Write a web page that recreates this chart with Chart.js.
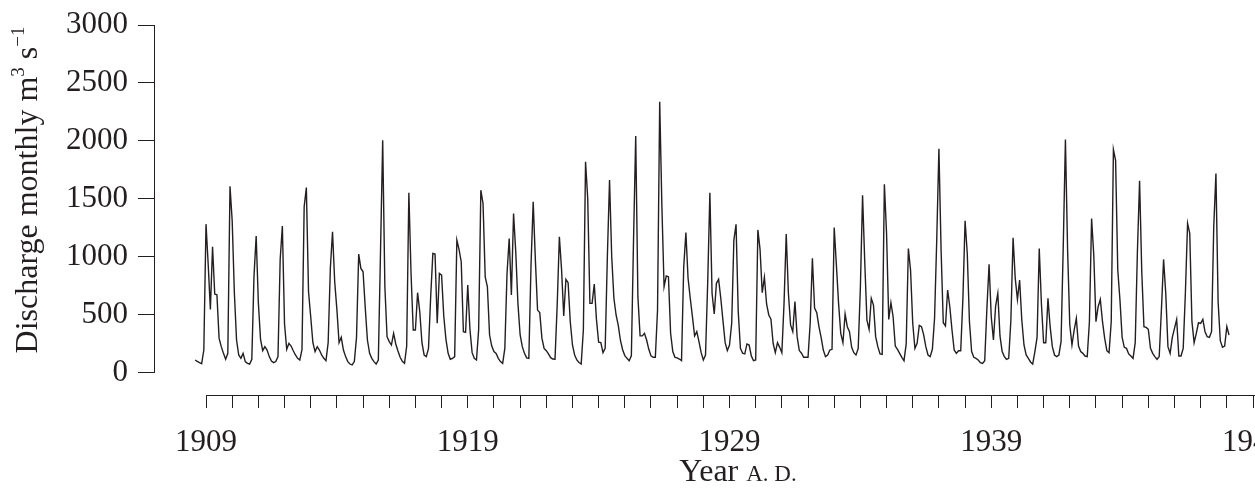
<!DOCTYPE html>
<html>
<head>
<meta charset="utf-8">
<script src="https://cdn.jsdelivr.net/npm/chart.js@4.4.1/dist/chart.umd.min.js"></script>
<style>
    html, body { margin: 0; padding: 0; background: #fff; }
    #wrap { width: 1255px; height: 488px; }
</style>
</head>
<body>
<div id="wrap"><canvas id="discharge-graph" width="1255" height="488"></canvas></div>
<script>
// monthly mean discharge, m3/s — first value is Aug 1908, one row = 12 months
const startYear = 1908, startMonth = 8;
const monthlyDischarge = [
    112, 100, 89, 80, 198, 1283, 938, 548, 1088, 680, 674, 298,
    227, 169, 118, 169, 1610, 1312, 692, 284, 155, 126, 169, 98,
    83, 77, 118, 835, 1180, 606, 290, 192, 227, 198, 141, 103,
    89, 98, 141, 979, 1266, 422, 204, 255, 232, 192, 155, 126,
    112, 200, 1432, 1598, 700, 485, 261, 184, 227, 198, 155, 126,
    106, 261, 901, 1217, 786, 548, 261, 307, 198, 141, 98, 77,
    69, 98, 307, 1025, 901, 872, 565, 284, 169, 126, 98, 77,
    112, 1045, 2006, 743, 313, 270, 241, 341, 250, 190, 135, 100,
    83, 232, 1553, 858, 370, 370, 692, 528, 261, 155, 141, 212,
    657, 1030, 1025, 428, 858, 844, 491, 290, 169, 118, 125, 141,
    1145, 1065, 959, 356, 350, 758, 376, 175, 126, 112, 376, 1576,
    1461, 829, 743, 327, 232, 184, 169, 126, 98, 83, 212, 858,
    1159, 672, 1375, 1045, 600, 330, 227, 169, 130, 126, 930, 1475,
    973, 542, 520, 300, 212, 192, 164, 132, 120, 118, 585, 1174,
    893, 491, 806, 778, 442, 241, 155, 112, 90, 77, 370, 1820,
    1504, 600, 600, 767, 462, 265, 261, 175, 212, 1002, 1663, 1003,
    644, 500, 410, 280, 200, 150, 126, 106, 147, 1146, 2043, 658,
    320, 320, 342, 284, 204, 147, 135, 135, 543, 2339, 1434, 744,
    836, 830, 342, 184, 135, 130, 120, 106, 911, 1210, 816, 644,
    486, 319, 356, 270, 175, 112, 155, 779, 1554, 687, 509, 773,
    807, 644, 451, 261, 193, 241, 428, 1146, 1281, 529, 213, 170,
    164, 250, 241, 147, 106, 112, 1233, 1066, 692, 825, 595, 500,
    463, 256, 175, 261, 221, 175, 600, 1198, 687, 414, 356, 615,
    313, 193, 170, 135, 135, 135, 434, 988, 560, 520, 400, 307,
    198, 141, 155, 198, 204, 1254, 930, 600, 342, 261, 508, 399,
    356, 221, 175, 155, 212, 738, 1533, 959, 456, 376, 643, 585,
    313, 227, 164, 160, 1627, 1203, 462, 606, 485, 232, 204, 169,
    135, 106, 250, 1073, 887, 428, 212, 255, 410, 399, 330, 227,
    155, 141, 204, 470, 1145, 1934, 1059, 433, 405, 715, 571, 370,
    198, 169, 192, 192, 643, 1312, 1030, 442, 184, 135, 126, 112,
    89, 83, 106, 557, 938, 485, 284, 577, 686, 319, 184, 141,
    118, 126, 456, 1165, 815, 634, 801, 456, 241, 155, 126, 95,
    77, 184, 307, 1073, 594, 261, 261, 643, 399, 227, 155, 141,
    155, 270, 1088, 2012, 1059, 413, 241, 370, 471, 232, 184, 169,
    146, 141, 442, 1332, 1016, 442, 571, 634, 442, 298, 192, 175,
    442, 1926, 1834, 887, 629, 307, 221, 212, 164, 146, 126, 261,
    1045, 1656, 872, 399, 393, 376, 212, 169, 141, 118, 141, 542,
    979, 686, 227, 169, 307, 385, 462, 146, 146, 212, 692, 1289,
    1203, 442, 261, 342, 433, 428, 462, 356, 313, 307, 356, 1260,
    1719, 614, 278, 221, 232, 399, 327
];

const yTickValues = [0, 500, 1000, 1500, 2000, 2500, 3000];
const xTickYears = [];
for (let yr = 1909; yr <= 1949; yr++) xTickYears.push(yr);
const labelYears = [1909, 1919, 1929, 1939, 1949];

const ink = '#231f20';
const serif = "'Liberation Serif', 'Times New Roman', serif";

const points = monthlyDischarge.map((v, i) => ({
    x: startYear + (startMonth - 1 + i) / 12,
    y: v
}));

// own axis lines (the x axis sits below the plot and starts at the first year tick)
// plus the two axis titles, which need superscripts / small caps
const axisDecor = {
    id: 'axisDecor',
    afterDraw(chart) {
        const { ctx, chartArea, scales: { x, y } } = chart;
        ctx.save();
        ctx.strokeStyle = ink;
        ctx.lineWidth = 1;
        ctx.beginPath();
        const ax = Math.floor(chartArea.left) + 0.5;
        ctx.moveTo(ax, y.getPixelForValue(yTickValues[0]));
        ctx.lineTo(ax, y.getPixelForValue(yTickValues[yTickValues.length - 1]));
        const ay = Math.floor(chartArea.bottom) + 0.5;
        ctx.moveTo(x.getPixelForValue(xTickYears[0]), ay);
        ctx.lineTo(chartArea.right, ay);
        ctx.stroke();

        ctx.fillStyle = ink;
        ctx.textBaseline = 'alphabetic';
        ctx.textAlign = 'left';

        // x title: Year A. D. (small caps)
        const big = '32px ' + serif, small = '23px ' + serif;
        ctx.font = big;
        const w1 = ctx.measureText('Year ').width;
        ctx.font = small;
        const w2 = ctx.measureText('A. D.').width;
        const tx = 738 - (w1 + w2) / 2;
        ctx.font = big;
        ctx.fillText('Year ', tx, 481);
        ctx.font = small;
        ctx.fillText('A. D.', tx + w1, 481);

        // y title with superscripts
        const parts = [
            { t: 'Discharge monthly m', f: big, up: 0 },
            { t: '3', f: '19px ' + serif, up: 13 },
            { t: ' s', f: big, up: 0 },
            { t: '\u22121', f: '19px ' + serif, up: 13 }
        ];
        let total = 0;
        parts.forEach(p => { ctx.font = p.f; p.w = ctx.measureText(p.t).width; total += p.w; });
        ctx.translate(37, 190);
        ctx.rotate(-Math.PI / 2);
        let px = -total / 2;
        parts.forEach(p => {
            ctx.font = p.f;
            ctx.fillText(p.t, px, -p.up);
            px += p.w;
        });
        ctx.restore();
    }
};

new Chart(document.getElementById('discharge-graph'), {
    type: 'line',
    data: {
        datasets: [{
            label: 'Discharge',
            data: points,
            borderColor: ink,
            borderWidth: 1.4,
            pointRadius: 0,
            tension: 0,
            fill: false
        }]
    },
    options: {
        responsive: false,
        animation: false,
        devicePixelRatio: 1,
        layout: { padding: { top: 25, right: 0, bottom: 0, left: 0 } },
        plugins: {
            legend: { display: false },
            tooltip: { enabled: false }
        },
        scales: {
            x: {
                type: 'linear',
                min: 1907.013,
                max: 1949.076,
                border: { display: false },
                grid: {
                    drawOnChartArea: false,
                    drawTicks: true,
                    tickLength: 13,
                    tickColor: ink,
                    lineWidth: 1
                },
                ticks: {
                    autoSkip: false,
                    maxRotation: 0,
                    padding: 16,
                    color: ink,
                    font: { family: serif, size: 31 },
                    callback: v => labelYears.includes(v) ? String(v) : ''
                },
                afterBuildTicks: s => { s.ticks = xTickYears.map(v => ({ value: v })); },
                afterFit: s => { s.height = 93; s.paddingLeft = 0; s.paddingRight = 0; }
            },
            y: {
                min: -190,
                max: 3000,
                border: { display: false },
                grid: {
                    drawOnChartArea: false,
                    drawTicks: true,
                    tickLength: 16,
                    tickColor: ink,
                    lineWidth: 1
                },
                ticks: {
                    padding: 10,
                    color: ink,
                    font: { family: serif, size: 31 },
                    callback: v => String(v)
                },
                afterBuildTicks: s => { s.ticks = yTickValues.map(v => ({ value: v })); },
                afterFit: s => { s.width = 154; s.paddingTop = 0; s.paddingBottom = 0; }
            }
        }
    },
    plugins: [axisDecor]
});
</script>
</body>
</html>
